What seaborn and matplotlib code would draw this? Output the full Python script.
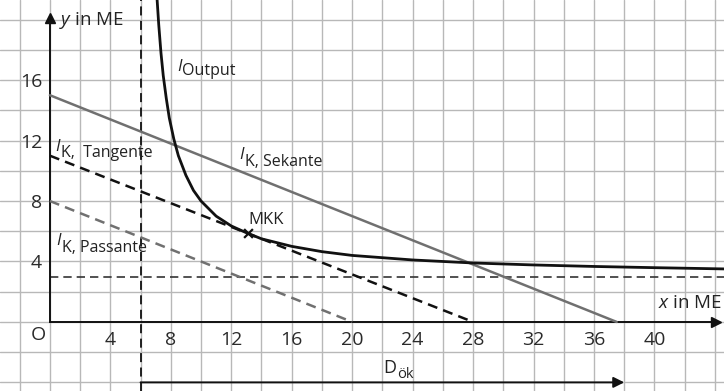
import matplotlib
matplotlib.use("Agg")
import matplotlib.pyplot as plt
import seaborn as sns

# isoquant I_Output, points
output_x = [7.05, 7.2, 7.35, 7.5, 7.7, 7.9, 8.2, 8.5, 9.0, 9.5, 10, 11, 12, 13, 14, 16, 18, 20, 24, 28, 32, 36, 40, 45]
output_y = [22.0, 19.7, 17.8, 16.3, 14.8, 13.5, 12.1, 11.0, 9.7, 8.7, 8.0, 7.0, 6.35, 5.9, 5.5, 5.0, 4.65, 4.4, 4.1, 3.9, 3.77, 3.67, 3.59, 3.5]

# isocost lines (end points on the axes)
sekante_x = [0, 37.5]
sekante_y = [15, 0]
tangente_x = [0, 28]
tangente_y = [11, 0]
passante_x = [0, 20]
passante_y = [8, 0]

mkk_x = [13.1]
mkk_y = [5.9]
asym_x = 6
asym_y = 3
d_ok_x = [6, 38]
d_ok_y = -4

x_labels = [4, 8, 12, 16, 20, 24, 28, 32, 36, 40]
y_labels = [4, 8, 12, 16]

sns.set_style("white")
plt.rcParams['font.family'] = ['Open Sans', 'DejaVu Sans']
plt.rcParams['mathtext.fontset'] = 'custom'
plt.rcParams['mathtext.rm'] = 'Open Sans'
plt.rcParams['mathtext.it'] = 'Open Sans:italic'

fig = plt.figure(figsize=(7.24, 3.91), dpi=100)
ax = fig.add_axes([0, 0, 1, 1])
ax.set_xlim(-3.3, 44.6)
ax.set_ylim(-4.57, 21.3)

# squared paper
grid_c = '#b8b8b8'
for gx in range(-2, 46, 2):
    ax.axvline(gx, color=grid_c, lw=1, zorder=0)
for gy in range(-4, 22, 2):
    ax.axhline(gy, color=grid_c, lw=1, zorder=0)

# axes through the origin
for s in ['top', 'right']:
    ax.spines[s].set_visible(False)
ax.spines['left'].set_position(('data', 0))
ax.spines['bottom'].set_position(('data', 0))
ax.spines['left'].set_bounds(0, 20.0)
ax.spines['bottom'].set_bounds(0, 44.0)
for s in ['left', 'bottom']:
    ax.spines[s].set_color('#111111')
    ax.spines[s].set_linewidth(1.4)
ax.plot(0, 20.1, marker='^', color='#111111', ms=7, clip_on=False, zorder=5)
ax.plot(44.1, 0, marker='>', color='#111111', ms=7, clip_on=False, zorder=5)

xt = list(range(2, 44, 2))
ax.set_xticks(xt)
ax.set_xticklabels([str(v) if v in x_labels else '' for v in xt])
yt = list(range(2, 20, 2))
ax.set_yticks(yt)
ax.set_yticklabels([str(v) if v in y_labels else '' for v in yt])
ax.tick_params(axis='both', direction='inout', length=6, width=1.2,
               colors='#111111', labelcolor='#2a2a2a', labelsize=14)
ax.tick_params(axis='x', pad=3.5)
ax.tick_params(axis='y', pad=2.5)
ax.set_xlabel('')
ax.set_ylabel('')

# asymptotes
ax.axvline(asym_x, color='#111111', lw=1.3, ls=(0, (5, 3)), zorder=2)
ax.hlines(asym_y, 0, 44.6, color='#333333', lw=1.2, ls=(0, (5, 3)), zorder=2)

# isocost lines
sns.lineplot(x=sekante_x, y=sekante_y, color='#707070', lw=1.8, ax=ax, zorder=3)
sns.lineplot(x=tangente_x, y=tangente_y, color='#111111', lw=1.8, ls=(0, (4, 2.5)), ax=ax, zorder=3)
sns.lineplot(x=passante_x, y=passante_y, color='#707070', lw=1.8, ls=(0, (4, 2.5)), ax=ax, zorder=3)

# isoquant
sns.lineplot(x=output_x, y=output_y, sort=False, estimator=None, color='#111111', lw=2, ax=ax, zorder=4)
sns.scatterplot(x=mkk_x, y=mkk_y, marker='x', color='#111111', s=40, linewidth=1.6, ax=ax, zorder=5)

# D_ök arrow
ax.annotate('', xy=(d_ok_x[1], d_ok_y), xytext=(d_ok_x[0], d_ok_y),
            arrowprops=dict(arrowstyle='-|>', color='#111111', lw=1.4, mutation_scale=16,
                            shrinkA=0, shrinkB=0))

tc = '#222222'


def label_i(x, y, sub, dx, dy):
    # italic I with a near full-size subscript
    ax.text(x, y, 'I', style='italic', fontsize=12, color=tc, va='baseline')
    ax.annotate(sub, xy=(x, y), xytext=(dx, dy), textcoords='offset points',
                fontsize=11.5, color=tc, va='baseline')


label_i(8.41, 16.6, 'Output', 3.6, -2.5)
label_i(12.5, 10.75, 'K, Sekante', 4.3, -5)
label_i(0.33, 11.28, 'K,  Tangente', 4.6, -3.8)
label_i(0.4, 5.1, 'K, Passante', 4.1, -5.5)

ax.text(0.62, 19.67, r'$y$ in ME', va='baseline', fontsize=13.5, color=tc)
ax.text(40.26, 0.9, r'$x$ in ME', va='baseline', fontsize=13.5, color=tc)
ax.text(13.15, 6.5, 'MKK', va='baseline', fontsize=12, color=tc)
ax.text(-0.76, -0.86, 'O', ha='center', va='center', fontsize=14, color='#2a2a2a')

ax.text(22.07, -3.4, 'D', va='baseline', fontsize=13, color=tc)
ax.annotate('ök', xy=(22.07, -3.4), xytext=(9.5, -3.4), textcoords='offset points',
            fontsize=10.5, color=tc, va='baseline')

fig.savefig('out.png', dpi=100)
